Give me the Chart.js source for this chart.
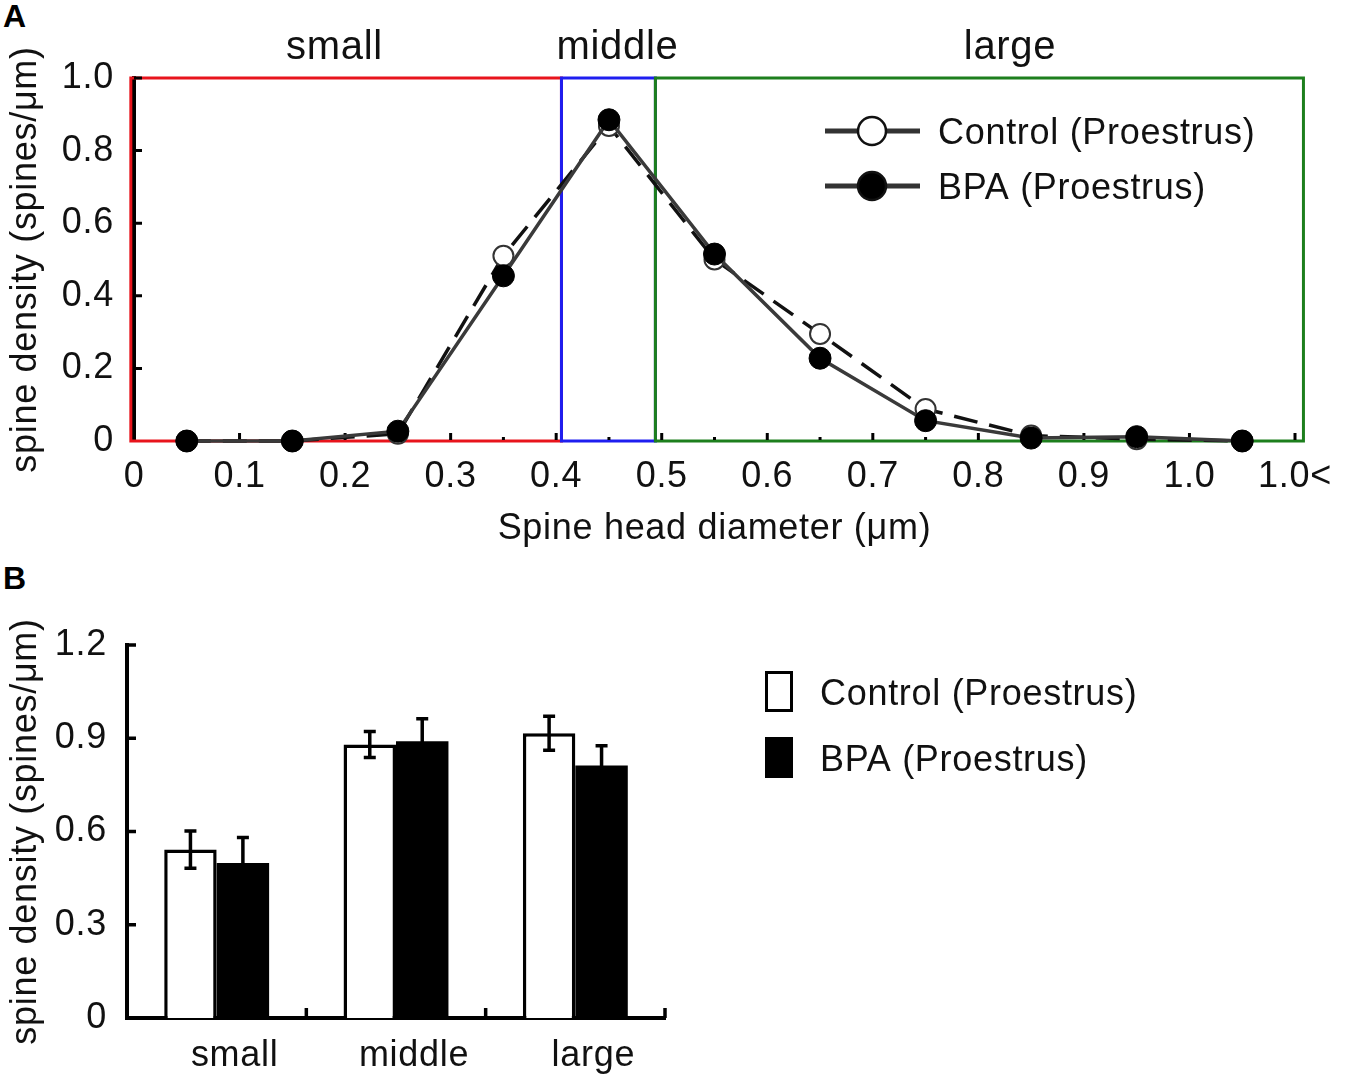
<!DOCTYPE html>
<html>
<head>
<meta charset="utf-8">
<script src="https://cdn.jsdelivr.net/npm/chart.js@4.4.0/dist/chart.umd.min.js"></script>
<style>
  body { margin: 0; background: #fff; width: 1350px; height: 1079px; position: relative; overflow: hidden;
         font-family: "Liberation Sans", Arial, sans-serif; }
  .tag { position: absolute; font-weight: bold; font-size: 32px; line-height: 32px; color: #000; }
  #boxA { position: absolute; left: 0; top: 0; }
  #boxB { position: absolute; left: 0; top: 560px; }
</style>
</head>
<body>
<div class="tag" style="left:3px;top:0px">A</div>
<div class="tag" style="left:3px;top:562px">B</div>
<div id="boxA"><canvas id="chartA" width="1350" height="560"></canvas></div>
<div id="boxB"><canvas id="chartB" width="1350" height="519"></canvas></div>
<script>
// panel A: spine density per head diameter bin
const seriesNames = ['Control (Proestrus)', 'BPA (Proestrus)'];
const binCenters = [0.05, 0.15, 0.25, 0.35, 0.45, 0.55, 0.65, 0.75, 0.85, 0.95, 1.05];
const controlDensity = [0, 0, 0.02, 0.51, 0.868, 0.50, 0.295, 0.088, 0.015, 0.005, 0];
const bpaDensity = [0, 0, 0.027, 0.455, 0.885, 0.515, 0.228, 0.056, 0.008, 0.012, 0];
const xTickValues = [0, 0.1, 0.2, 0.3, 0.4, 0.5, 0.6, 0.7, 0.8, 0.9, 1.0, 1.1];
const xTickLabels = ['0', '0.1', '0.2', '0.3', '0.4', '0.5', '0.6', '0.7', '0.8', '0.9', '1.0', '1.0<'];
const yTickValuesA = [0, 0.2, 0.4, 0.6, 0.8, 1.0];
const yTickLabelsA = ['0', '0.2', '0.4', '0.6', '0.8', '1.0'];
const sizeClasses = ['small', 'middle', 'large'];
const classEdges = [-0.003, 0.405, 0.494, 1.108];
const classLabelAt = [0.19, 0.458, 0.83];

// panel B: mean density per size class
const controlMean = [0.542, 0.88, 0.916];
const controlErr = [0.06, 0.042, 0.055];
const bpaMean = [0.499, 0.89, 0.812];
const bpaErr = [0.082, 0.073, 0.064];
const yTickValuesB = [0, 0.3, 0.6, 0.9, 1.2];
const yTickLabelsB = ['0', '0.3', '0.6', '0.9', '1.2'];

const FONT = '"Liberation Sans", Arial, sans-serif';
const classColors = ['#e8141c', '#1e1ef0', '#1d7f1d'];

Chart.defaults.font.family = FONT;
Chart.defaults.font.size = 36;
Chart.defaults.color = '#111';
Chart.defaults.animation = false;

const spacing = {
  id: 'spacing',
  beforeDraw(chart) { chart.ctx.letterSpacing = '0.7px'; }
};

// coloured size-class boxes + inward tick marks
const classBoxes = {
  id: 'classBoxes',
  beforeDatasetsDraw(chart) {
    const ctx = chart.ctx, x = chart.scales.x, y = chart.scales.y;
    ctx.save();
    ctx.lineWidth = 3;
    for (let i = 0; i < sizeClasses.length; i++) {
      const x0 = x.getPixelForValue(classEdges[i]);
      const x1 = x.getPixelForValue(classEdges[i + 1]);
      const y0 = y.getPixelForValue(1.0);
      const y1 = y.getPixelForValue(0);
      ctx.strokeStyle = classColors[i];
      ctx.strokeRect(x0, y0, x1 - x0, y1 - y0);
    }
    ctx.strokeStyle = '#000';
    ctx.lineWidth = 3;
    const base = y.getPixelForValue(0);
    ctx.beginPath();
    for (let v = 1; v <= 22; v++) {
      const px = x.getPixelForValue(v * 0.05);
      ctx.moveTo(px, base - 1);
      ctx.lineTo(px, base - (v % 2 === 0 ? 8 : 4));
    }
    yTickValuesA.slice(1).forEach(v => {
      const py = y.getPixelForValue(v);
      ctx.moveTo(chart.chartArea.left, py);
      ctx.lineTo(chart.chartArea.left + 8, py);
    });
    ctx.stroke();

    ctx.fillStyle = '#111';
    ctx.font = '40px ' + FONT;
    ctx.textAlign = 'center';
    ctx.textBaseline = 'alphabetic';
    sizeClasses.forEach((s, i) => ctx.fillText(s, x.getPixelForValue(classLabelAt[i]), 59));
    ctx.restore();
  }
};

const legendA = {
  id: 'legendA',
  afterDraw(chart) {
    const ctx = chart.ctx;
    const fills = ['#fff', '#000'];
    ctx.save();
    seriesNames.forEach((name, i) => {
      const ly = 131 + i * 55;
      ctx.strokeStyle = '#333';
      ctx.lineWidth = 5;
      ctx.beginPath(); ctx.moveTo(825, ly); ctx.lineTo(920, ly); ctx.stroke();
      ctx.beginPath(); ctx.arc(872, ly, 14, 0, Math.PI * 2);
      ctx.fillStyle = fills[i]; ctx.fill();
      ctx.lineWidth = 2.5; ctx.strokeStyle = '#111'; ctx.stroke();
      ctx.fillStyle = '#111';
      ctx.font = '36px ' + FONT;
      ctx.textAlign = 'left';
      ctx.textBaseline = 'alphabetic';
      ctx.fillText(name, 938, ly + 13);
    });
    ctx.restore();
  }
};

new Chart(document.getElementById('chartA'), {
  type: 'line',
  data: {
    datasets: [
      {
        label: seriesNames[0],
        data: binCenters.map((x, i) => ({ x: x, y: controlDensity[i] })),
        borderColor: '#111',
        borderWidth: 3.5,
        borderDash: [24, 12],
        pointRadius: 10,
        pointBackgroundColor: '#fff',
        pointBorderColor: '#333',
        pointBorderWidth: 2,
        tension: 0,
        clip: false,
        order: 2
      },
      {
        label: seriesNames[1],
        data: binCenters.map((x, i) => ({ x: x, y: bpaDensity[i] })),
        borderColor: '#3a3a3a',
        borderWidth: 3.5,
        pointRadius: 11,
        pointBackgroundColor: '#000',
        pointBorderColor: '#000',
        pointBorderWidth: 1,
        tension: 0,
        clip: false,
        order: 1
      }
    ]
  },
  options: {
    responsive: false,
    layout: { padding: { left: 0, top: 78, right: 55, bottom: 0 } },
    plugins: { legend: { display: false }, tooltip: { enabled: false } },
    scales: {
      x: {
        type: 'linear',
        min: 0,
        max: 1.1,
        afterBuildTicks: s => { s.ticks = xTickValues.map(v => ({ value: v })); },
        afterFit: s => { s.height = 119; },
        grid: { display: false, drawTicks: false },
        border: { display: false },
        ticks: { autoSkip: false, maxRotation: 0, padding: 14, callback: (v, i) => xTickLabels[i] },
        title: { display: true, text: 'Spine head diameter (μm)', padding: { top: 0, bottom: 9 } }
      },
      y: {
        min: 0,
        max: 1.0,
        afterBuildTicks: s => { s.ticks = yTickValuesA.map(v => ({ value: v })); },
        afterFit: s => { s.width = 134; },
        grid: { display: false, drawTicks: false },
        border: { display: true, color: '#000', width: 4 },
        ticks: { padding: 20, callback: (v, i) => yTickLabelsA[i] },
        title: { display: true, text: 'spine density (spines/μm)', padding: { top: 4, bottom: 0 } }
      }
    }
  },
  plugins: [spacing, classBoxes, legendA]
});

// error bars and inward ticks for panel B
const errorBars = {
  id: 'errorBars',
  afterDatasetsDraw(chart) {
    const ctx = chart.ctx, y = chart.scales.y, x = chart.scales.x;
    const errs = [controlErr, bpaErr];
    ctx.save();
    ctx.strokeStyle = '#000';
    ctx.lineWidth = 3.5;
    chart.data.datasets.forEach((ds, d) => {
      chart.getDatasetMeta(d).data.forEach((bar, i) => {
        const v = ds.data[i], e = errs[d][i];
        const top = y.getPixelForValue(v + e), bot = y.getPixelForValue(v - e);
        ctx.beginPath();
        ctx.moveTo(bar.x, top); ctx.lineTo(bar.x, bot);
        ctx.moveTo(bar.x - 6, top); ctx.lineTo(bar.x + 6, top);
        ctx.moveTo(bar.x - 6, bot); ctx.lineTo(bar.x + 6, bot);
        ctx.stroke();
      });
    });
    const area = chart.chartArea;
    ctx.lineWidth = 3.5;
    ctx.beginPath();
    yTickValuesB.slice(1).forEach(v => {
      const py = y.getPixelForValue(v);
      ctx.moveTo(area.left, py); ctx.lineTo(area.left + 9, py);
    });
    const step = (x.right - x.left) / sizeClasses.length;
    for (let k = 1; k <= sizeClasses.length; k++) {
      const px = x.left + k * step;
      ctx.moveTo(px, area.bottom); ctx.lineTo(px, area.bottom - 10);
    }
    ctx.stroke();
    ctx.restore();
  }
};

const legendB = {
  id: 'legendB',
  afterDraw(chart) {
    const ctx = chart.ctx;
    const fills = ['#fff', '#000'];
    ctx.save();
    seriesNames.forEach((name, i) => {
      const top = 111 + i * 66;
      ctx.fillStyle = fills[i];
      ctx.fillRect(765, top, 28, 41);
      ctx.strokeStyle = '#000';
      ctx.lineWidth = 3;
      ctx.strokeRect(766.5, top + 1.5, 25, 38);
      ctx.fillStyle = '#111';
      ctx.font = '36px ' + FONT;
      ctx.textAlign = 'left';
      ctx.textBaseline = 'alphabetic';
      ctx.fillText(name, 820, top + 34);
    });
    ctx.restore();
  }
};

new Chart(document.getElementById('chartB'), {
  type: 'bar',
  data: {
    labels: sizeClasses,
    datasets: [
      {
        label: seriesNames[0],
        data: controlMean,
        backgroundColor: '#fff',
        borderColor: '#000',
        borderWidth: 3.5,
        categoryPercentage: 0.585,
        barPercentage: 1
      },
      {
        label: seriesNames[1],
        data: bpaMean,
        backgroundColor: '#000',
        borderColor: '#000',
        borderWidth: 0,
        categoryPercentage: 0.585,
        barPercentage: 1
      }
    ]
  },
  options: {
    responsive: false,
    layout: { padding: { left: 0, top: 85, right: 685, bottom: 0 } },
    plugins: { legend: { display: false }, tooltip: { enabled: false } },
    scales: {
      x: {
        afterFit: s => { s.height = 61; },
        grid: { display: false, drawTicks: false },
        border: { display: true, color: '#000', width: 4 },
        ticks: { padding: 16, labelOffset: 18, maxRotation: 0 }
      },
      y: {
        min: 0,
        max: 1.2,
        afterBuildTicks: s => { s.ticks = yTickValuesB.map(v => ({ value: v })); },
        afterFit: s => { s.width = 127; },
        grid: { display: false, drawTicks: false },
        border: { display: true, color: '#000', width: 4 },
        ticks: { padding: 20, callback: (v, i) => yTickLabelsB[i] },
        title: { display: true, text: 'spine density (spines/μm)', padding: { top: 4, bottom: 0 } }
      }
    }
  },
  plugins: [spacing, errorBars, legendB]
});
</script>
</body>
</html>
